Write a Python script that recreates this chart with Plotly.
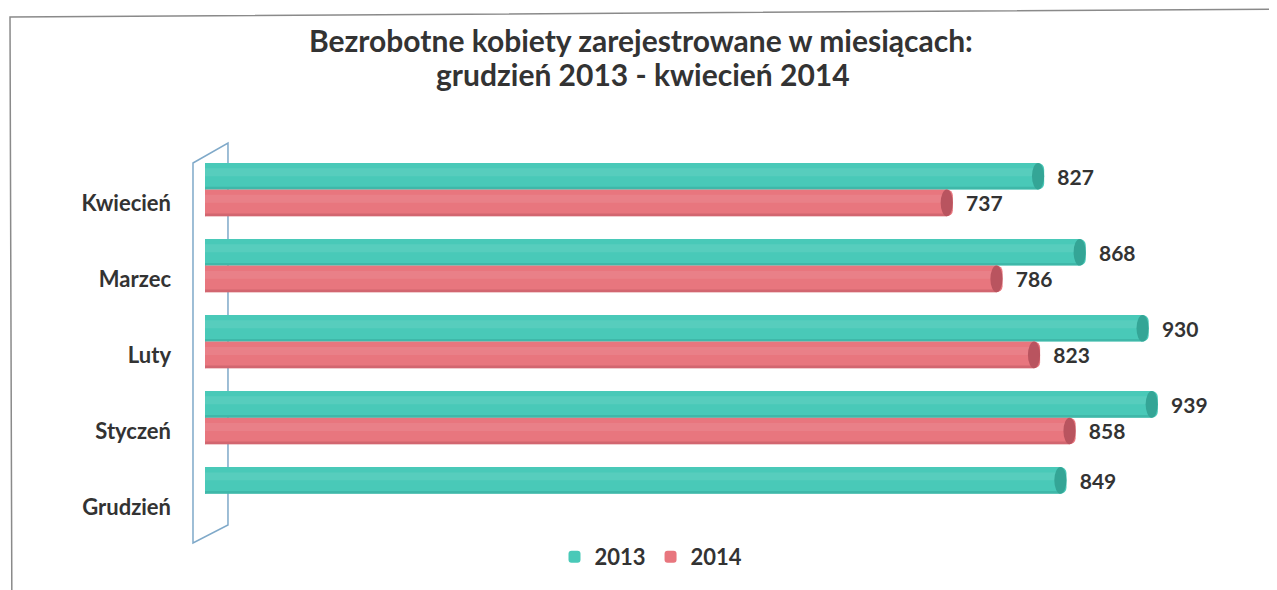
import plotly.graph_objects as go

# ---- data ----
months = ["Grudzień", "Styczeń", "Luty", "Marzec", "Kwiecień"]
values_2013 = [849, 939, 930, 868, 827]
values_2014 = [None, 858, 823, 786, 737]
series_names = ["2013", "2014"]
title_lines = ["Bezrobotne kobiety zarejestrowane w miesiącach:", "grudzień 2013 - kwiecień 2014"]

# ---- style ----
OFF = 8                      # page body margin
W, H = 1277 - OFF, 590 - OFF  # figure size so it fills the window
ML, MT = 205 - OFF, 142 - OFF
MR = W - (1240 - OFF)
MB = H - (545 - OFF)
X_MAX = 1020
Y_RANGE = [-0.5, 4.8]
BAR_W = 0.35
C13, C14 = "#49c9b8", "#e8767e"
CAP13, CAP14 = "#34a596", "#b9545f"
TXT = "#333333"
FONT = "Lato"

PW = W - ML - MR
PH = H - MT - MB


def px_x(px):
    """page pixel x -> paper coordinate"""
    return (px - OFF - ML) / PW


def px_y(py):
    """page pixel y -> paper coordinate"""
    return (H - MB - (py - OFF)) / PH


fig = go.Figure()
for name, vals, col, off in [(series_names[0], values_2013, C13, BAR_W / 2),
                             (series_names[1], values_2014, C14, -BAR_W / 2)]:
    fig.add_trace(go.Bar(
        name=name, y=months, x=vals, orientation="h",
        marker=dict(color=col, line=dict(width=0), cornerradius=6),
        offset=off, width=BAR_W,
        text=["\u00a0\u00a0" + str(v) if v is not None else "" for v in vals],
        textposition="outside", cliponaxis=False,
        textfont=dict(family=FONT, size=21, color=TXT, weight="bold"),
    ))

shapes = []
# 3D wall outline (behind bars)
wall = [(193, 163), (228, 143), (228, 525), (193, 543)]
path = "M " + " L ".join(f"{px_x(a):.4f},{px_y(b):.4f}" for a, b in wall) + " Z"
shapes.append(dict(type="path", path=path, xref="paper", yref="paper",
                   line=dict(color="#7fa9c9", width=1.5), layer="below"))
# outer frame (top and left edges)
frame = [(1300, 9), (10, 17), (12, 640)]
fpath = "M " + " L ".join(f"{px_x(a):.4f},{px_y(b):.4f}" for a, b in frame)
shapes.append(dict(type="path", path=fpath, xref="paper", yref="paper",
                   line=dict(color="#8a8a8a", width=1.5), layer="below"))

# cylinder end caps / shading, positioned from data
for i, m in enumerate(months):
    for vals, col, cap, off in [(values_2013, C13, CAP13, BAR_W / 2),
                                (values_2014, C14, CAP14, -BAR_W / 2)]:
        v = vals[i]
        if v is None:
            continue
        y0, y1 = i + off, i + off + BAR_W
        shapes.append(dict(type="rect", xref="x", yref="y", x0=0, x1=v - 6,
                           y0=y0, y1=y0 + BAR_W * 0.1,
                           fillcolor=cap, opacity=0.45, line=dict(width=0)))
        shapes.append(dict(type="rect", xref="x", yref="y", x0=0, x1=v - 6,
                           y0=y0 + BAR_W * 0.5, y1=y0 + BAR_W * 0.8,
                           fillcolor="white", opacity=0.08, line=dict(width=0)))
        shapes.append(dict(type="circle", xref="x", yref="y", x0=-5, x1=5,
                           y0=y0, y1=y1, fillcolor=col, line=dict(width=0),
                           layer="below"))
        shapes.append(dict(type="circle", xref="x", yref="y", x0=v - 12, x1=v,
                           y0=y0, y1=y1, fillcolor=cap, line=dict(width=0)))

annotations = [
    dict(text=title_lines[0], x=px_x(641), y=px_y(40), xref="paper", yref="paper",
         xanchor="center", yanchor="middle", showarrow=False,
         font=dict(family=FONT, size=30, color=TXT, weight="bold")),
    dict(text=title_lines[1], x=px_x(643), y=px_y(74), xref="paper", yref="paper",
         xanchor="center", yanchor="middle", showarrow=False,
         font=dict(family=FONT, size=30, color=TXT, weight="bold")),
]

fig.update_layout(
    width=W, height=H,
    margin=dict(l=ML, r=MR, t=MT, b=MB, autoexpand=False),
    paper_bgcolor="white", plot_bgcolor="white",
    barmode="overlay",
    showlegend=True,
    xaxis=dict(range=[0, X_MAX], visible=False, fixedrange=True),
    yaxis=dict(type="category", categoryorder="array", categoryarray=months,
               range=Y_RANGE, showgrid=False, zeroline=False, showline=False,
               ticks="", ticklabelstandoff=33, automargin=False,
               tickfont=dict(family=FONT, size=22, color=TXT, weight="bold")),
    legend=dict(orientation="h", xref="container", yref="container",
                x=(651 - OFF) / W, xanchor="center", y=1 - (557 - OFF) / H, yanchor="middle",
                font=dict(family=FONT, size=22, color=TXT, weight="bold"),
                traceorder="normal", itemwidth=30),
    annotations=annotations,
    shapes=shapes,
)

fig.write_html("out.html")
